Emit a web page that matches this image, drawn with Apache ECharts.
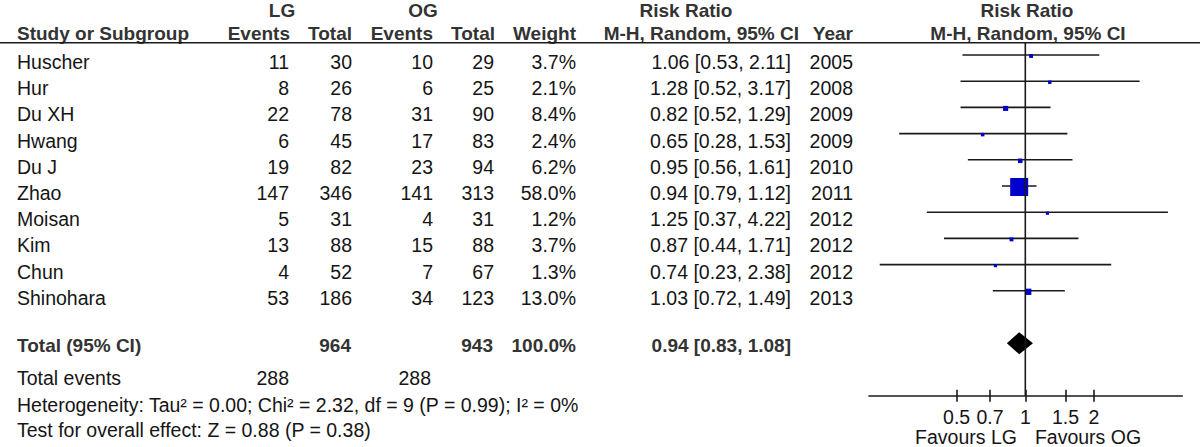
<!DOCTYPE html>
<html>
<head>
<meta charset="utf-8">
<script src="https://cdn.jsdelivr.net/npm/echarts@6/dist/echarts.min.js"></script>
<style>
	html, body { margin: 0; padding: 0; background: #fff; }
	#forestPlot { width: 1200px; height: 447px; }
</style>
</head>
<body>
<div id="forestPlot"></div>
<script>
	// study data
	const studies = ['Huscher', 'Hur', 'Du XH', 'Hwang', 'Du J', 'Zhao', 'Moisan', 'Kim', 'Chun', 'Shinohara'];
	const lgEvents = [11, 8, 22, 6, 19, 147, 5, 13, 4, 53];
	const lgTotal = [30, 26, 78, 45, 82, 346, 31, 88, 52, 186];
	const ogEvents = [10, 6, 31, 17, 23, 141, 4, 15, 7, 34];
	const ogTotal = [29, 25, 90, 83, 94, 313, 31, 88, 67, 123];
	const weights = [3.7, 2.1, 8.4, 2.4, 6.2, 58.0, 1.2, 3.7, 1.3, 13.0];
	const riskRatio = [1.06, 1.28, 0.82, 0.65, 0.95, 0.94, 1.25, 0.87, 0.74, 1.03];
	const ciLower = [0.53, 0.52, 0.52, 0.28, 0.56, 0.79, 0.37, 0.44, 0.23, 0.72];
	const ciUpper = [2.11, 3.17, 1.29, 1.53, 1.61, 1.12, 4.22, 1.71, 2.38, 1.49];
	const years = [2005, 2008, 2009, 2009, 2010, 2011, 2012, 2012, 2012, 2013];

	// pooled result
	const pooledRR = 0.94;
	const pooledLower = 0.83;
	const pooledUpper = 1.08;
	const lgTotalAll = 964;
	const ogTotalAll = 943;
	const lgEventsAll = 288;
	const ogEventsAll = 288;
	const totalWeight = 100.0;
	const heterogeneityText = 'Heterogeneity: Tau² = 0.00; Chi² = 2.32, df = 9 (P = 0.99); I² = 0%';
	const overallEffectText = 'Test for overall effect: Z = 0.88 (P = 0.38)';

	// axis
	const axisTicks = [0.5, 0.7, 1, 1.5, 2];
	const favourLabels = ['Favours LG', 'Favours OG'];

	// layout (rows are in row units, row 0 = first study)
	const ROW0 = 55, PITCH = 26.2, AXIS_Y = 395.7;
	const yMinAll = -ROW0 / PITCH;
	const yMaxAll = (447 - ROW0) / PITCH;
	const yMaxPlot = (AXIS_Y - ROW0) / PITCH;
	const totalRow = 11;
	const headerLineRow = (42.7 - ROW0) / PITCH;
	const FONT = '"Liberation Sans", Arial, Helvetica, sans-serif';
	const REG = '19.5px ' + FONT;
	const BOLD = 'bold 19px ' + FONT;

	const fmt2 = v => v.toFixed(2);
	const ciText = (e, l, u) => fmt2(e) + ' [' + fmt2(l) + ', ' + fmt2(u) + ']';

	// table text cells
	const cells = [];
	function cell(x, row, text, align, bold) {
		cells.push({ x: x, y: row, text: String(text), align: align, bold: !!bold });
	}
	const topRow = (10 - ROW0) / PITCH;
	cell(282, topRow, 'LG', 'center', true);
	cell(423, topRow, 'OG', 'center', true);
	cell(686, topRow, 'Risk Ratio', 'center', true);
	cell(1027, topRow, 'Risk Ratio', 'center', true);
	const subRow = (33.3 - ROW0) / PITCH;
	cell(17, subRow, 'Study or Subgroup', 'left', true);
	cell(290, subRow, 'Events', 'right', true);
	cell(352, subRow, 'Total', 'right', true);
	cell(433, subRow, 'Events', 'right', true);
	cell(495, subRow, 'Total', 'right', true);
	cell(576, subRow, 'Weight', 'right', true);
	cell(799, subRow, 'M-H, Random, 95% CI', 'right', true);
	cell(853, subRow, 'Year', 'right', true);
	cell(1028, subRow, 'M-H, Random, 95% CI', 'center', true);

	const textOff = 7 / PITCH;
	studies.forEach((name, i) => {
		const r = i + textOff;
		cell(17, r, name, 'left');
		cell(289, r, lgEvents[i], 'right');
		cell(352, r, lgTotal[i], 'right');
		cell(433, r, ogEvents[i], 'right');
		cell(494, r, ogTotal[i], 'right');
		cell(576, r, weights[i].toFixed(1) + '%', 'right');
		cell(791, r, ciText(riskRatio[i], ciLower[i], ciUpper[i]), 'right');
		cell(853, r, years[i], 'right');
	});
	const totRow = totalRow + 0.1;
	cell(17, totRow, 'Total (95% CI)', 'left', true);
	cell(351, totRow, lgTotalAll, 'right', true);
	cell(493, totRow, ogTotalAll, 'right', true);
	cell(576, totRow, totalWeight.toFixed(1) + '%', 'right', true);
	cell(791, totRow, ciText(pooledRR, pooledLower, pooledUpper), 'right', true);
	cell(17, 12.34, 'Total events', 'left');
	cell(289, 12.34, lgEventsAll, 'right');
	cell(431, 12.34, ogEventsAll, 'right');
	cell(17, 13.36, heterogeneityText, 'left');
	cell(17, 14.31, overallEffectText, 'left');

	function renderText(params, api) {
		const c = cells[params.dataIndex];
		const p = api.coord([c.x, c.y]);
		return {
			type: 'text',
			x: p[0],
			y: p[1],
			style: {
				text: c.text,
				textAlign: c.align,
				textVerticalAlign: 'middle',
				font: c.bold ? BOLD : REG,
				fill: c.bold ? '#333' : '#151515'
			}
		};
	}

	function renderStudy(params, api) {
		const i = params.dataIndex;
		const row = api.value(3);
		const a = api.coord([api.value(1), row]);
		const b = api.coord([api.value(2), row]);
		const m = api.coord([api.value(0), row]);
		const s = 2.9 + 0.26 * weights[i];
		return {
			type: 'group',
			children: [{
				type: 'line',
				shape: { x1: a[0], y1: a[1], x2: b[0], y2: b[1] },
				style: { stroke: '#1a1a1a', lineWidth: 1.6 }
			}, {
				type: 'rect',
				shape: { x: m[0] - s / 2, y: m[1] - s / 2 + 1, width: s, height: s },
				style: { fill: '#0000cc' }
			}]
		};
	}

	function renderDiamond(params, api) {
		const row = api.value(3);
		const m = api.coord([api.value(0), row]);
		const a = api.coord([api.value(1), row]);
		const b = api.coord([api.value(2), row]);
		const h = 11;
		return {
			type: 'polygon',
			shape: { points: [[a[0], m[1]], [m[0], m[1] - h], [b[0], m[1]], [m[0], m[1] + h]] },
			style: { fill: '#000' }
		};
	}

	const chart = echarts.init(document.getElementById('forestPlot'), null, { renderer: 'svg' });
	const logMin = 0.2064, logMax = 4.878;
	const tickFmt = v => String(Number(Number(v).toPrecision(3)));
	const option = {
		animation: false,
		backgroundColor: '#fff',
		grid: [
			{ left: 0, right: 0, top: 0, bottom: 0 },
			{ left: 869, width: 313.3, top: 0, bottom: 447 - AXIS_Y }
		],
		xAxis: [{
			gridIndex: 0, type: 'value', min: 0, max: 1200, show: false
		}, {
			gridIndex: 1, type: 'log', logBase: 10, min: logMin, max: logMax, position: 'bottom',
			axisLine: { show: true, onZero: false, lineStyle: { color: '#1a1a1a', width: 1.6 } },
			axisTick: { show: true, customValues: axisTicks, length: 6, lineStyle: { color: '#1a1a1a', width: 1.6 } },
			axisLabel: { show: true, customValues: axisTicks, formatter: tickFmt, margin: 11, fontSize: 19.5, fontFamily: FONT, color: '#151515' },
			splitLine: { show: false },
			minorTick: { show: false }
		}, {
			gridIndex: 1, type: 'log', logBase: 10, min: logMin, max: logMax, position: 'bottom',
			axisLine: { show: false, onZero: false },
			axisTick: { show: true, inside: true, customValues: axisTicks, length: 6, lineStyle: { color: '#1a1a1a', width: 1.6 } },
			axisLabel: { show: false },
			splitLine: { show: false }
		}],
		yAxis: [{
			gridIndex: 0, type: 'value', inverse: true, min: yMinAll, max: yMaxAll, show: false
		}, {
			gridIndex: 1, type: 'value', inverse: true, min: yMinAll, max: yMaxPlot, show: false
		}],
		graphic: [{
			type: 'text', x: 966, y: 437,
			style: { text: favourLabels[0], textAlign: 'center', textVerticalAlign: 'middle', font: REG, fill: '#151515' }
		}, {
			type: 'text', x: 1088, y: 437,
			style: { text: favourLabels[1], textAlign: 'center', textVerticalAlign: 'middle', font: REG, fill: '#151515' }
		}],
		series: [{
			name: 'headerRule',
			type: 'line',
			xAxisIndex: 0, yAxisIndex: 0,
			symbol: 'none',
			lineStyle: { color: '#1a1a1a', width: 1.6 },
			data: [[0, headerLineRow], [1200, headerLineRow]]
		}, {
			name: 'table',
			type: 'custom',
			xAxisIndex: 0, yAxisIndex: 0,
			renderItem: renderText,
			data: cells.map(c => [c.x, c.y])
		}, {
			name: 'nullLine',
			type: 'line',
			xAxisIndex: 1, yAxisIndex: 1,
			symbol: 'none',
			lineStyle: { color: '#1a1a1a', width: 1.6 },
			data: [[1, headerLineRow], [1, yMaxPlot]]
		}, {
			name: 'studies',
			type: 'custom',
			xAxisIndex: 1, yAxisIndex: 1,
			renderItem: renderStudy,
			encode: { x: [0, 1, 2], y: 3 },
			data: studies.map((s, i) => [riskRatio[i], ciLower[i], ciUpper[i], i])
		}, {
			name: 'pooled',
			type: 'custom',
			xAxisIndex: 1, yAxisIndex: 1,
			renderItem: renderDiamond,
			encode: { x: [0, 1, 2], y: 3 },
			data: [[pooledRR, pooledLower, pooledUpper, totalRow]]
		}]
	};
	chart.setOption(option);
</script>
</body>
</html>
